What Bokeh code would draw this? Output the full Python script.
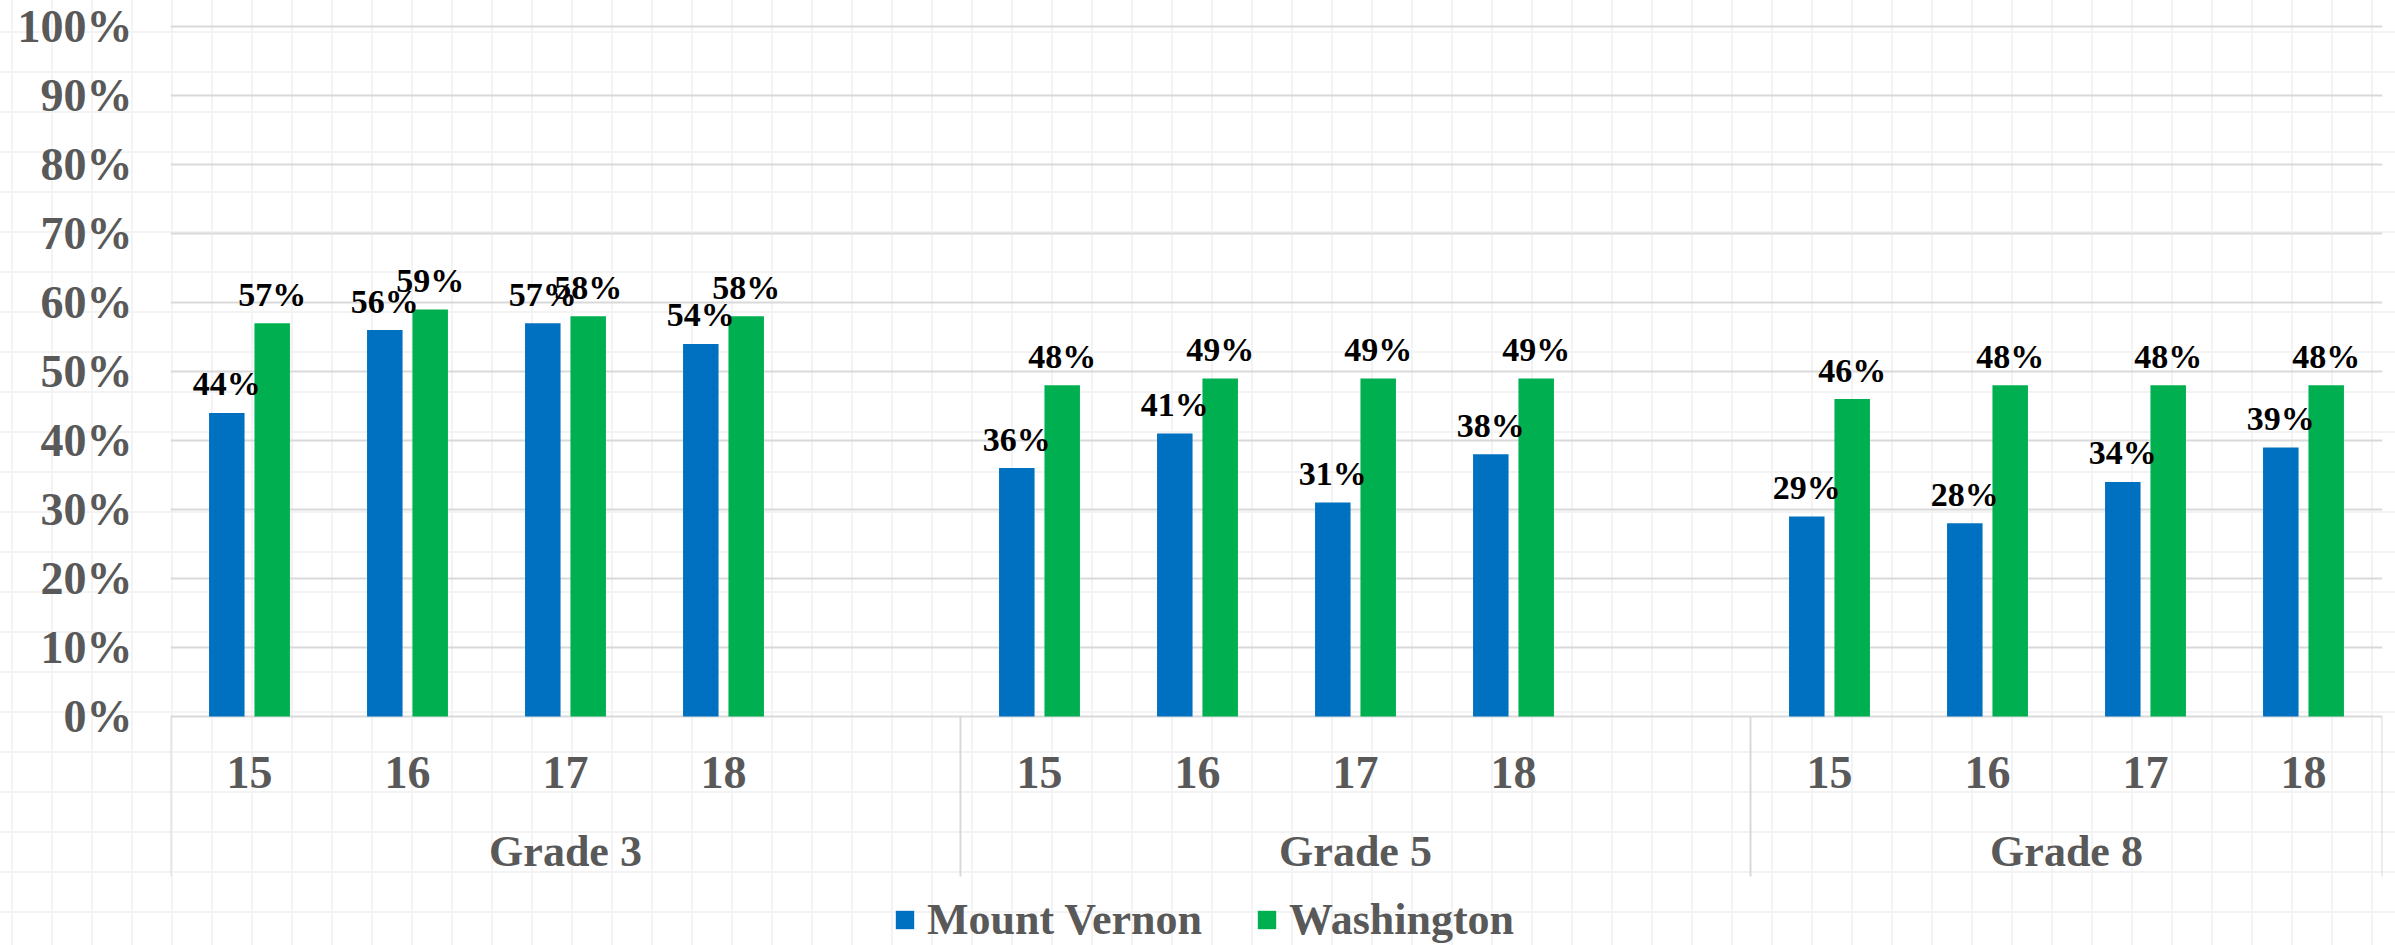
from bokeh.plotting import figure
from bokeh.models import (Range1d, FixedTicker, NumeralTickFormatter, ColumnDataSource,
                          Legend, LegendItem)
from bokeh.core.properties import value
from bokeh.embed import file_html
from bokeh.resources import INLINE

# ---------------- data ----------------
grades = ["Grade 3", "Grade 5", "Grade 8"]
years = ["15", "16", "17", "18"]
mount_vernon = [0.44, 0.56, 0.57, 0.54, 0.36, 0.41, 0.31, 0.38, 0.29, 0.28, 0.34, 0.39]
washington = [0.57, 0.59, 0.58, 0.58, 0.48, 0.49, 0.49, 0.49, 0.46, 0.48, 0.48, 0.48]
y_ticks = [0.0, 0.1, 0.2, 0.3, 0.4, 0.5, 0.6, 0.7, 0.8, 0.9, 1.0]
series_names = ["Mount Vernon", "Washington"]

BLUE = "#0070C0"
GREEN = "#00B050"
GRAY_TXT = "#595959"
GRID = "#d9d9d9"
FONT = value("Liberation Serif")

W, H = 2395, 945
PX = 690.0          # pixels per 100%
Y0 = 716            # pixel row of 0%
# category slots: each grade group has 5 slots (last one empty) except the final group
group_sizes = [5, 5, 4]
group_starts = [0, 5, 10]
slot_centers = []
slot_labels = []
for gs in group_starts:
    for i, yr in enumerate(years):
        slot_centers.append(gs + i + 0.5)
        slot_labels.append(yr)
total_slots = sum(group_sizes)

OFF = 0.1437
BW = 0.2247
x_mv = [c - OFF for c in slot_centers]
x_w = [c + OFF for c in slot_centers]

p = figure(width=W, height=H, output_backend="svg", toolbar_location=None,
           x_range=Range1d(0, total_slots),
           y_range=Range1d(-(H - Y0) / PX, 1.0 + 2 / PX),
           x_axis_type=None, min_border_left=170, min_border_right=W - 2382,
           min_border_top=24, min_border_bottom=0,
           styles={
               "background-color": "white",
               "background-image": "linear-gradient(to right, #f3f3f3 2px, transparent 2px), "
                                   "linear-gradient(to bottom, #f3f3f3 2px, transparent 2px)",
               "background-size": "40px 40px",
               "background-position": "11px 31px",
           })
p.background_fill_color = None
p.border_fill_color = None
p.outline_line_color = None

# y axis
yax = p.yaxis[0]
yax.ticker = FixedTicker(ticks=y_ticks)
yax.formatter = NumeralTickFormatter(format="0%")
yax.axis_line_color = None
yax.major_tick_line_color = None
yax.minor_tick_line_color = None
yax.major_label_text_font = "Liberation Serif"
yax.major_label_text_font_style = "bold"
yax.major_label_text_font_size = "46px"
yax.major_label_text_color = GRAY_TXT
yax.major_label_standoff = 32

p.ygrid[0].ticker = FixedTicker(ticks=y_ticks)
p.ygrid[0].grid_line_color = GRID
p.ygrid[0].grid_line_width = 2

# bars
src_mv = ColumnDataSource(dict(x=x_mv, top=mount_vernon,
                               lab=["%d%%" % round(v * 100) for v in mount_vernon]))
src_w = ColumnDataSource(dict(x=x_w, top=washington,
                              lab=["%d%%" % round(v * 100) for v in washington]))
r_mv = p.vbar(x="x", top="top", bottom=0, width=BW, source=src_mv,
              fill_color=BLUE, line_color=None)
r_w = p.vbar(x="x", top="top", bottom=0, width=BW, source=src_w,
             fill_color=GREEN, line_color=None)

# data labels
for src in (src_mv, src_w):
    p.text(x="x", y="top", text="lab", source=src, text_align="center",
           text_baseline="middle", y_offset=-29, text_font=FONT,
           text_font_style="bold", text_font_size="34px", text_color="black")

# category axis (multi-level)
sep_x = [0, 5, 10, 14]
p.segment(x0=sep_x, y0=[0] * 4, x1=sep_x, y1=[-(876 - Y0) / PX] * 4,
          line_color=GRID, line_width=2)
p.text(x=slot_centers, y=[-(772 - Y0) / PX] * len(slot_centers), text=slot_labels,
       text_align="center", text_baseline="middle", text_font=FONT,
       text_font_style="bold", text_font_size="46px", text_color=GRAY_TXT)
grp_centers = [gs + n / 2 for gs, n in zip(group_starts, group_sizes)]
p.text(x=grp_centers, y=[-(851 - Y0) / PX] * 3, text=grades,
       text_align="center", text_baseline="middle", text_font=FONT,
       text_font_style="bold", text_font_size="44px", text_color=GRAY_TXT)

legend = Legend(items=[LegendItem(label=series_names[0], renderers=[r_mv]),
                       LegendItem(label=series_names[1], renderers=[r_w])],
                orientation="horizontal", location=(723, 0),
                label_text_font="Liberation Serif", label_text_font_style="bold",
                label_text_font_size="44px", label_text_color=GRAY_TXT,
                glyph_width=23, glyph_height=23, label_standoff=11, spacing=53,
                padding=0, margin=0, border_line_color=None,
                background_fill_alpha=0)
p.add_layout(legend)

open("out.html", "w").write(file_html(p, INLINE))
